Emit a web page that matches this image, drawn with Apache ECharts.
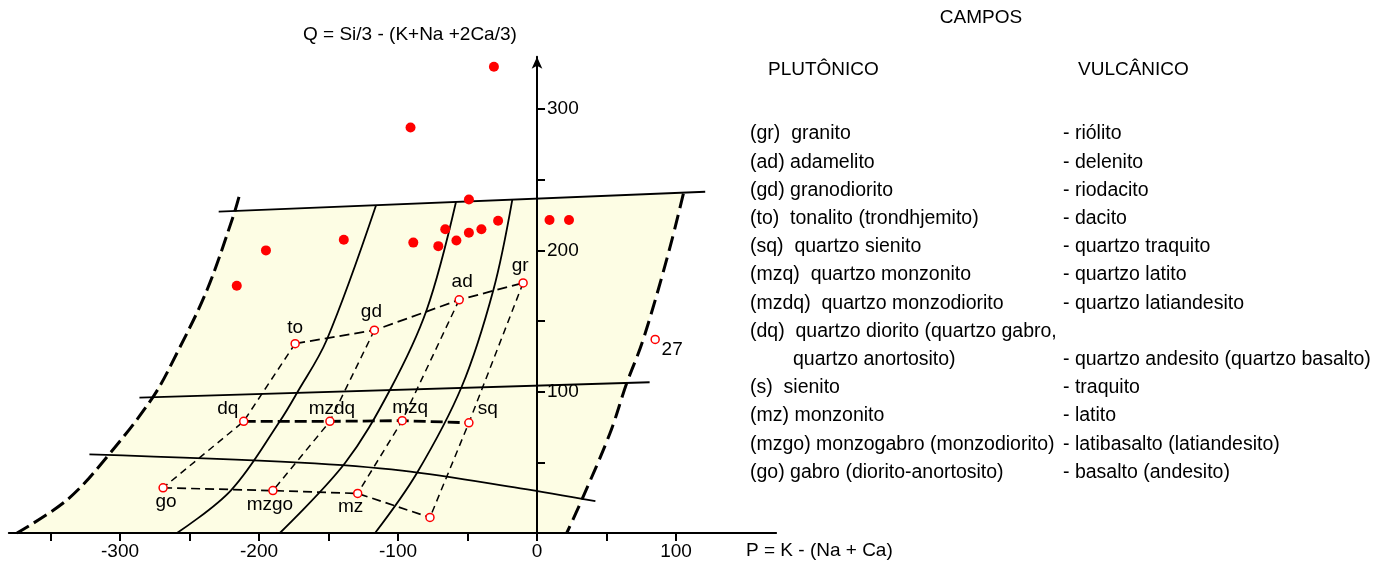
<!DOCTYPE html>
<html>
<head>
<meta charset="utf-8">
<script src="https://cdn.jsdelivr.net/npm/echarts@6/dist/echarts.min.js"></script>
<style>
  html, body { margin: 0; padding: 0; background: #fff; }
  #chart { width: 1382px; height: 565px; }
</style>
</head>
<body>
<div id="chart"></div>
<script>
// ---- Debon & Le Fort P-Q diagram: data ----

// axis ticks and labels
const xTickValues = [-350, -300, -250, -200, -150, -100, -50, 0, 50, 100];
const xLabelValues = [-300, -200, -100, 0, 100];
const yTickValues = [50, 100, 150, 200, 250, 300];
const yLabelValues = [100, 200, 300];

// reference centroids of the plutonic fields
const centroidNames = ['to', 'gd', 'ad', 'gr', 'dq', 'mzdq', 'mzq', 'sq', 'go', 'mzgo', 'mz', 's'];
const centroidP = [-174, -117, -56, -10, -211, -149, -97, -49, -269, -190, -129, -77];
const centroidQ = [134, 143.5, 165, 177, 79, 79, 79.5, 78, 32, 30, 28, 11];

// connections between centroids (rows and columns of the grid)
const rowUpper = ['to', 'gd', 'ad', 'gr'];
const rowMiddle = ['dq', 'mzdq', 'mzq', 'sq'];
const rowLower = ['go', 'mzgo', 'mz', 's'];
const columns = [['to', 'dq', 'go'], ['gd', 'mzdq', 'mzgo'], ['ad', 'mzq', 'mz'], ['gr', 'sq', 's']];

// sample 27
const sample27 = [85, 137];

// analysed samples
const sampleP = [-31, -91, -49, 9, 23, -28, -66, -40, -49, -58, -139, -89, -71, -195, -216];
const sampleQ = [330, 287, 236, 221.5, 221.5, 221, 215, 215, 212.5, 207, 207.5, 205.5, 203, 200, 175];

// field boundaries (solid)
const topLineP = [-229, 121];
const topLineQ = [227.4, 241.5];
const middleLineP = [-286, 81];
const middleLineQ = [95.8, 106.7];
const lowerLineP = [-322, -170.5, -97, -12, 42];
const lowerLineQ = [55.7, 49.8, 44.1, 31.6, 22.6];
const curveAP = [-115.8, -151.3, -172.7, -184.9, -220, -259];
const curveAQ = [231.9, 136.6, 99.1, 79.3, 30.4, 0];
const curveBP = [-58.3, -79.4, -105.8, -138.1, -185];
const curveBQ = [234.2, 157.8, 101.2, 49.5, 0];
const curveCP = [-17.8, -31.4, -54.2, -86.5, -116.5];
const curveCQ = [235.8, 172, 103.5, 42.3, 0];

// outer limits of the diagram (dashed)
const leftLimitP = [-214.4, -218.7, -237.4, -259, -276.3, -309.4, -338.1, -374.1];
const leftLimitQ = [237.8, 223.6, 172, 127.4, 96.2, 53.8, 23.4, 0];
const rightLimitP = [105.3, 94.5, 76.3, 64.5, 52.5, 32.2, 21.4];
const rightLimitQ = [240.2, 197.9, 136.6, 105.9, 70.6, 23.4, 0];

// texts
const axisTitleQ = 'Q = Si/3 - (K+Na +2Ca/3)';
const axisTitleP = 'P = K - (Na + Ca)';
const fieldsTitle = 'CAMPOS';
const columnHeads = ['PLUTÔNICO', 'VULCÂNICO'];
const plutonicNames = [
  '(gr)  granito',
  '(ad) adamelito',
  '(gd) granodiorito',
  '(to)  tonalito (trondhjemito)',
  '(sq)  quartzo sienito',
  '(mzq)  quartzo monzonito',
  '(mzdq)  quartzo monzodiorito',
  '(dq)  quartzo diorito (quartzo gabro,',
  'quartzo anortosito)',
  '(s)  sienito',
  '(mz) monzonito',
  '(mzgo) monzogabro (monzodiorito)',
  '(go) gabro (diorito-anortosito)'
];
const volcanicNames = [
  '- riólito',
  '- delenito',
  '- riodacito',
  '- dacito',
  '- quartzo traquito',
  '- quartzo latito',
  '- quartzo latiandesito',
  '',
  '- quartzo andesito (quartzo basalto)',
  '- traquito',
  '- latito',
  '- latibasalto (latiandesito)',
  '- basalto (andesito)'
];

// ---- styling ----
const FONT = '"Liberation Sans", Arial, Helvetica, sans-serif';
const FIELD_FILL = '#fdfde4';
const RED = '#ff0000';

const zip = (ps, qs) => ps.map((p, i) => [p, qs[i]]);
const centroid = name => {
  const i = centroidNames.indexOf(name);
  return [centroidP[i], centroidQ[i]];
};

// label placement of each centroid name (offset from the marker, px)
const labelOffset = {
  to: [0, -16], gd: [-3, -18], ad: [3, -18], gr: [-3, -17],
  dq: [-16, -13], mzdq: [2, -13], mzq: [8, -13], sq: [19, -14],
  go: [3, 14], mzgo: [-3, 14], mz: [-7, 13]
};

// shaded field: left limit (up to the top line), top line, right limit
function topLineAt(p) {
  return topLineQ[0] + (p - topLineP[0]) * (topLineQ[1] - topLineQ[0]) / (topLineP[1] - topLineP[0]);
}
function fieldOutline() {
  const left = zip(leftLimitP, leftLimitQ);
  // corner where the left limit meets the top line
  const a = left[1], b = left[0];
  let lo = 0, hi = 1;
  for (let k = 0; k < 40; k++) {
    const t = (lo + hi) / 2;
    const p = a[0] + (b[0] - a[0]) * t, q = a[1] + (b[1] - a[1]) * t;
    if (q < topLineAt(p)) lo = t; else hi = t;
  }
  const corner = [a[0] + (b[0] - a[0]) * lo, a[1] + (b[1] - a[1]) * lo];
  const pts = left.slice(1).reverse();
  pts.push(corner);
  zip(rightLimitP, rightLimitQ).forEach(pt => pts.push(pt));
  return pts;
}

function solidLine(ps, qs, smooth) {
  return {
    type: 'line', data: zip(ps, qs), smooth: smooth ? 0.35 : false,
    symbol: 'none', silent: true, z: 3, clip: false,
    lineStyle: { color: '#000', width: 1.8 }
  };
}
function dashedLine(data, width, dash, smooth) {
  return {
    type: 'line', data: data, smooth: smooth ? 0.35 : false,
    symbol: 'none', silent: true, z: 3, clip: false,
    lineStyle: { color: '#000', width: width, type: dash, cap: 'butt' }
  };
}

const series = [];

series.push({
  type: 'custom', coordinateSystem: 'cartesian2d', silent: true, z: 1,
  data: [[0, 0]],
  renderItem: (params, api) => ({
    type: 'polygon',
    shape: { points: fieldOutline().map(pt => api.coord(pt)) },
    style: { fill: FIELD_FILL }
  })
});

series.push(solidLine(topLineP, topLineQ, false));
series.push(solidLine(middleLineP, middleLineQ, false));
series.push(solidLine(lowerLineP, lowerLineQ, true));
series.push(solidLine(curveAP, curveAQ, true));
series.push(solidLine(curveBP, curveBQ, true));
series.push(solidLine(curveCP, curveCQ, true));

series.push(dashedLine(zip(leftLimitP, leftLimitQ), 3, [15, 6], true));
series.push(dashedLine(zip(rightLimitP, rightLimitQ), 3, [15, 7], true));

series.push(dashedLine(rowUpper.map(centroid), 1.8, [10, 5], false));
series.push(dashedLine(rowMiddle.map(centroid), 2.8, [12, 5], false));
series.push(dashedLine(rowLower.map(centroid), 1.7, [9, 5], false));
columns.forEach(col => series.push(dashedLine(col.map(centroid), 1.5, [7, 5], false)));

// Q-axis labels, drawn beside the axis line at P = 0
series.push({
  type: 'scatter', silent: true, z: 4, symbolSize: 0,
  data: yLabelValues.map(v => [0, v]),
  itemStyle: { opacity: 1 },
  label: { show: true, position: 'right', distance: 10, formatter: p => String(p.value[1]),
           color: '#000', fontSize: 19, fontFamily: FONT }
});

// analysed samples
series.push({
  type: 'scatter', data: zip(sampleP, sampleQ), symbol: 'circle', symbolSize: 10,
  silent: true, z: 5, itemStyle: { color: RED, opacity: 1 }
});

// centroids with their names
series.push({
  type: 'scatter', silent: true, z: 6, symbol: 'circle', symbolSize: 8,
  itemStyle: { color: '#fff', borderColor: RED, borderWidth: 1.5, opacity: 1 },
  data: centroidNames.map((n, i) => ({
    value: [centroidP[i], centroidQ[i]],
    name: n,
    label: labelOffset[n]
      ? { show: true, formatter: n, position: 'inside', offset: labelOffset[n] }
      : { show: false }
  })),
  label: { color: '#000', fontSize: 19, fontFamily: FONT }
});

// sample 27
series.push({
  type: 'scatter', silent: true, z: 6, symbol: 'circle', symbolSize: 8,
  itemStyle: { color: '#fff', borderColor: RED, borderWidth: 1.5, opacity: 1 },
  data: [{ value: sample27, name: '27' }],
  label: { show: true, formatter: '27', position: 'inside', offset: [17, 10],
           color: '#000', fontSize: 19, fontFamily: FONT }
});

// ---- texts outside the plot ----
const graphic = [];
const txt = (x, y, text, size, align) => ({
  type: 'text', x: x, y: y, silent: true, z: 10,
  style: { text: text, fill: '#000', fontSize: size, fontFamily: FONT,
           align: align || 'left', verticalAlign: 'middle' }
});
graphic.push(txt(303, 35, axisTitleQ, 19));
graphic.push(txt(746, 551, axisTitleP, 19));
graphic.push(txt(981, 18, fieldsTitle, 19, 'center'));
graphic.push(txt(768, 70, columnHeads[0], 19));
graphic.push(txt(1078, 70, columnHeads[1], 19));
plutonicNames.forEach((t, i) => {
  const indent = t.startsWith('(') ? 0 : 43;
  graphic.push(txt(750 + indent, 134 + i * 28.2, t, 19.5));
});
volcanicNames.forEach((t, i) => {
  if (t) graphic.push(txt(1063, 134 + i * 28.2, t, 19.5));
});

const chart = echarts.init(document.getElementById('chart'), null, { renderer: 'canvas' });
chart.setOption({
  animation: false,
  backgroundColor: '#fff',
  grid: { left: 8.8, right: 605.9, top: 56.8, bottom: 32, containLabel: false, outerBoundsMode: 'none' },
  xAxis: {
    type: 'value', min: -380, max: 172, z: 2,
    axisLine: { show: true, onZero: true, lineStyle: { color: '#000', width: 2 } },
    axisTick: { show: true, length: 8, customValues: xTickValues, lineStyle: { color: '#000', width: 2 } },
    axisLabel: { show: true, customValues: xLabelValues, color: '#000', fontSize: 19, fontFamily: FONT, margin: 9 },
    splitLine: { show: false }
  },
  yAxis: {
    type: 'value', min: 0, max: 337, z: 2,
    axisLine: { show: true, onZero: true, symbol: ['none', 'arrow'], symbolSize: [8, 12],
                lineStyle: { color: '#000', width: 2 } },
    axisTick: { show: true, inside: true, length: 8, customValues: yTickValues,
                lineStyle: { color: '#000', width: 2 } },
    axisLabel: { show: false },
    splitLine: { show: false }
  },
  series: series,
  graphic: graphic
});
</script>
</body>
</html>
